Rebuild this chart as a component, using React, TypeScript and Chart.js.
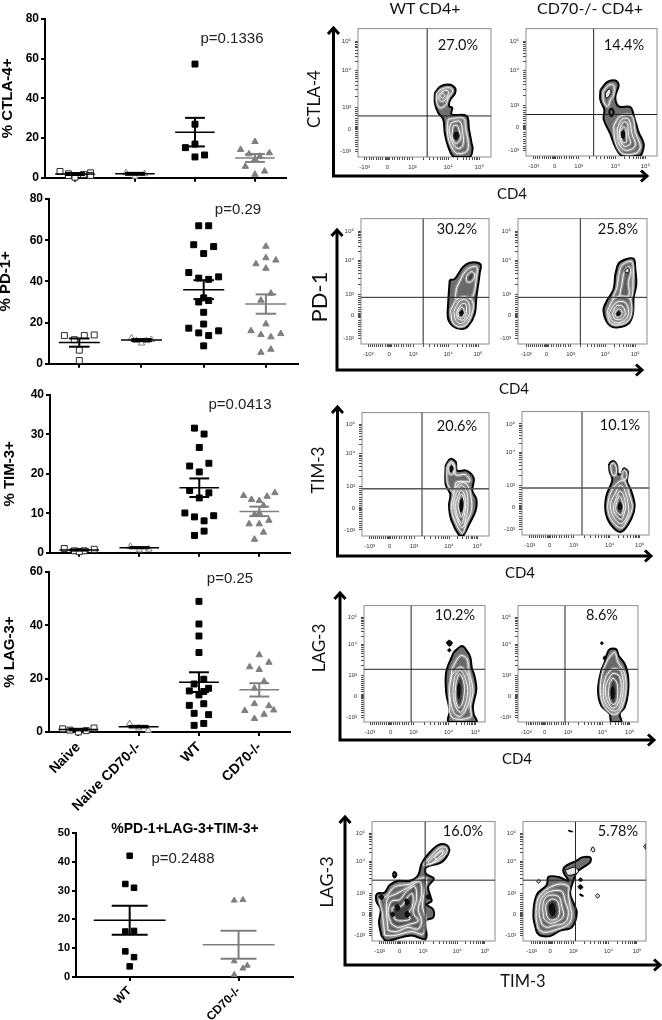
import React, { useEffect, useRef } from "react";
import Chart from "chart.js/auto";

// ---------- dot plots: [jitter, value] ----------
const groupNames = ["Naive", "Naive CD70-/-", "WT", "CD70-/-"];
const lastNames = ["WT", "CD70-/-"];

const ctla4Naive = [[-0.25, 3.2], [-0.11, 2], [-0.11, 1.2], [0, 0.3], [0.14, 1.7], [0.26, 2.5], [0.26, 1.2]];
const ctla4NaiveKo = [[-0.15, 2.5], [0, 0.7], [0.16, 2]];
const ctla4Wt = [[0, 57.3], [0, 27], [0, 17], [-0.16, 15.2], [0, 10.5], [0.16, 11.5]];
const ctla4Ko = [[0, 18.2], [-0.24, 14.2], [0.24, 12.5], [-0.1, 12], [0.08, 10.8], [0, 9.5], [-0.16, 5.7], [0.16, 3.3], [0, 1.7]];
const ctla4Means = [1.9, 2, 23, 10];
const ctla4Sems = [0.5, 0.5, 7.2, 2];

const pd1Naive = [[-0.24, 13.7], [-0.08, 11.7], [0.08, 13.7], [0.24, 14], [0, 6.6], [0, 1.6]];
const pd1NaiveKo = [[-0.16, 12.5], [-0.08, 11.3], [0, 10], [0.08, 11.2], [0.16, 11.7]];
const pd1Wt = [[-0.08, 67], [0.08, 67], [-0.16, 57.8], [0.16, 56.9], [0, 53.5], [-0.24, 44.3], [-0.08, 41.6], [0.08, 41], [0.24, 42.2], [0, 32], [-0.08, 30], [0.08, 30.7], [0, 25], [-0.24, 17.3], [0, 19.3], [-0.08, 15], [0.24, 16], [0.08, 13.7], [0, 8.7]];
const pd1Ko = [[0, 57], [-0.16, 48.5], [0, 51.4], [0.16, 50.3], [0, 46.3], [0.08, 34.2], [-0.08, 30.8], [0, 19.3], [-0.24, 16], [-0.08, 14.1], [0.24, 14.6], [0.08, 13], [0.08, 7], [-0.08, 5.5]];
const pd1Means = [10.3, 11.5, 36, 29];
const pd1Sems = [2, 0.5, 4.6, 4.7];

const tim3Naive = [[-0.25, 1.1], [-0.08, 0.5], [0.08, 0.5], [0.25, 0.9], [0, 0.3]];
const tim3NaiveKo = [[-0.15, 1.6], [0, 0.7], [0.16, 0.9]];
const tim3Wt = [[-0.08, 31.6], [0.08, 30.1], [0, 26.7], [-0.16, 22], [0.16, 22.7], [0, 20.5], [-0.16, 15.8], [0.16, 15.2], [0, 13.9], [-0.24, 10.1], [-0.08, 9.1], [0.24, 9.4], [0.08, 8.1], [0.08, 5.5], [-0.08, 4.4]];
const tim3Ko = [[-0.26, 14.5], [-0.13, 13.5], [0, 13.2], [0.13, 14.3], [0.26, 15.2], [0.07, 12], [-0.08, 9.7], [0, 10.1], [-0.17, 7.3], [0, 7.3], [0.16, 8.2], [0.07, 5.2], [-0.08, 3.4]];
const tim3Means = [0.7, 1.3, 16.5, 10.5];
const tim3Sems = [0.15, 0.15, 2.35, 1.2];

const lag3Naive = [[-0.26, 1.2], [-0.14, 0.7], [0, 0], [0.13, 0.5], [0.26, 1.5]];
const lag3NaiveKo = [[-0.15, 3.1], [0, 1.5], [0.16, 0.6]];
const lag3Wt = [[0, 49], [0, 40.5], [0, 36], [0, 29.8], [-0.08, 18], [0.08, 19.8], [-0.16, 15.4], [0.16, 16.4], [0.08, 15.2], [0, 13.9], [-0.16, 10], [0.08, 10.6], [-0.08, 7], [0.16, 6.5], [-0.08, 2.5], [0.08, 3.2]];
const lag3Ko = [[0, 28.9], [-0.16, 24.4], [0.16, 26.1], [0, 23.4], [0.08, 19], [-0.08, 16.4], [-0.08, 10.6], [0.16, 9.8], [0.08, 6.6], [-0.24, 8], [0.24, 8.2], [-0.08, 5]];
const lag3Means = [0.9, 2, 18.7, 15.8];
const lag3Sems = [0.3, 0.3, 3.7, 2.5];

const tripleWt = [[0, 42.1], [-0.04, 32.3], [0.04, 31], [-0.04, 15.8], [0.04, 16], [-0.04, 8.9], [0.04, 6.9], [0, 3.7]];
const tripleKo = [[-0.04, 26.6], [0.04, 26.8], [-0.04, 5.5], [0.04, 3], [0.08, 4], [-0.04, 0.8]];
const tripleMeans = [19.7, 11.2];
const tripleSems = [5, 4.9];

// ---------- flow plots: each ring is [shade level, x, y, x, y, ...] in display channels ----------
const ctla4WtRings = [
  [0, 230,197,245,217,270,224,290,214,290,197,275,175,273,157,282,152,280,132,325,127,332,87,340,42,343,27,335,0,287,0,270,32,260,72,255,117,240,137,230,167],
  [1, 235,197,250,210,275,214,283,204,270,182,263,162,245,152,235,172],
  [2, 242,192,255,204,270,204,265,182,253,172,243,177],
  [3, 245,189,253,196,260,190,253,182],
  [1, 270,117,315,120,323,82,330,42,325,17,295,12,275,42,267,82],
  [2, 280,107,305,110,313,77,315,42,305,27,290,32,278,57,273,87],
  [3, 285,97,297,97,305,72,305,52,293,42,283,57,282,77],
  [5, 288,74,298,76,302,64,293,54,287,62],
];
const ctla4KoRings = [
  [0, 223,203,243,228,268,233,278,218,268,183,278,153,313,151,325,118,338,73,353,38,348,8,338,0,288,0,268,28,253,68,233,113,235,143,223,173],
  [1, 231,198,248,218,263,218,263,188,253,173,245,153,233,168],
  [6, 238,193,248,206,255,200,248,183,240,180],
  [0, 249,138,257,146,263,133,255,123],
  [1, 263,93,283,123,318,123,328,73,343,28,328,8,288,8,268,43],
  [2, 273,83,288,113,308,113,318,68,328,33,308,18,288,23,276,48],
  [3, 280,78,291,103,303,103,308,63,313,38,295,30,283,48],
  [4, 283,73,293,90,299,83,301,58,301,43,289,43],
  [5, 285,73,293,78,295,58,288,56],
];
const pd1WtRings = [
  [0, 267,198,282,201,307,238,327,251,359,246,357,218,347,143,342,93,322,55,302,46,277,55,262,78,262,123],
  [1, 287,173,317,228,347,238,347,203,332,143,287,138],
  [4, 317,208,332,223,342,213,332,193,319,193],
  [1, 269,103,289,138,317,145,337,128,332,88,317,61,297,53,277,65],
  [2, 279,101,297,133,317,135,327,113,322,83,302,63,285,73],
  [3, 287,98,302,123,315,123,317,98,309,75,292,78],
  [4, 292,98,302,113,309,108,309,88,302,81,294,85],
  [5, 297,98,305,103,307,93,300,88],
];
const pd1KoRings = [
  [0, 290,213,300,248,320,261,345,263,350,233,353,183,345,143,343,93,330,63,295,51,270,61,255,103,265,133,285,168],
  [1, 300,208,310,243,340,253,343,193,335,138,285,138,295,173],
  [2, 315,218,330,238,337,223,330,193,330,148,305,143,310,183],
  [6, 320,228,330,235,330,221,320,221],
  [1, 267,103,290,143,330,143,340,108,330,73,295,58,273,68],
  [2, 273,98,293,128,320,128,330,98,320,75,295,65,278,75],
  [3, 282,95,295,118,313,115,320,93,310,78,295,75,285,81],
  [4, 289,95,298,108,308,105,310,91,300,83,291,85],
  [5, 294,93,300,100,305,93,299,87],
];
const tim3WtRings = [
  [0, 251,219,265,238,281,229,285,202,313,202,335,179,331,139,343,114,341,79,323,39,303,0,293,0,268,49,261,94,265,129,251,159],
  [1, 255,214,266,229,278,219,281,189,311,189,323,169,283,166,278,134,265,144,255,169],
  [3, 260,214,268,224,276,212,273,192,263,192],
  [5, 264,212,270,217,273,206,266,198],
  [1, 278,144,298,166,318,154,328,114,328,79,313,39,301,9,278,49,268,89],
  [2, 283,134,298,156,313,139,318,104,315,69,301,26,283,59,275,99],
  [3, 288,124,298,142,308,126,311,94,305,54,298,39,286,64,281,99],
  [4, 293,119,299,129,305,114,306,84,298,59,291,79,288,99],
  [5, 296,109,300,116,303,99,298,74,294,89],
];
const tim3KoRings = [
  [0, 261,220,273,228,285,215,288,188,298,188,305,205,318,195,315,165,328,135,338,90,328,50,298,10,268,30,251,70,253,120,271,170,263,195],
  [1, 265,215,275,222,283,208,281,185,271,185],
  [1, 301,195,308,200,315,188,311,172,301,175],
  [1, 273,145,293,165,308,165,323,120,331,85,318,50,298,22,273,40,258,75,261,115],
  [2, 278,125,293,152,305,145,318,100,318,65,298,35,278,50,266,80,268,105],
  [3, 283,115,293,135,303,125,311,90,308,70,298,48,281,62,274,85],
  [4, 286,105,293,120,300,105,305,85,298,62,285,70,281,85],
  [5, 290,92,295,100,299,85,294,78,289,82],
];
const lag3WtRings = [
  [0, 268,215,293,235,308,220,318,200,323,165,330,145,336,100,326,50,328,25,336,0,253,0,256,35,246,90,246,155],
  [5, 246,245,254,253,264,245,256,234],
  [5, 250,222,255,227,260,222,255,217],
  [1, 263,165,288,205,308,195,313,160,326,100,318,50,318,15,263,15,256,80],
  [2, 263,145,288,170,308,150,318,100,310,50,288,18,268,30,256,95],
  [3, 271,140,288,160,303,135,310,95,300,45,288,30,273,50,266,95],
  [4, 276,125,286,148,298,125,300,90,293,55,283,45,275,65,273,95],
  [5, 281,112,284,120,287,108,286,82,283,72,281,90],
];
const lag3KoRings = [
  [0, 265,205,275,225,295,225,302,205,320,180,330,145,330,90,320,45,305,25,310,0,280,0,275,25,250,50,240,100,250,160,260,185],
  [5, 247,244,251,248,256,244,251,239],
  [5, 255,198,261,205,265,198,261,190],
  [1, 270,195,290,215,300,185,320,150,323,90,305,32,280,25,255,55,247,105,255,160],
  [2, 265,145,285,165,310,155,315,90,300,38,277,38,258,70,257,115],
  [3, 270,130,285,150,305,140,308,85,295,48,280,45,265,75,263,110],
  [4, 275,120,285,135,297,120,298,75,290,55,278,60,271,90],
  [5, 281,102,285,110,288,95,287,75,282,72,280,88],
];
const tripleWtRings = [
  [0, 28,17,21,57,26,97,13,122,15,145,38,149,53,172,78,185,113,185,138,202,148,237,168,267,198,295,223,295,231,277,208,242,163,227,161,207,185,192,168,167,175,137,178,122,163,112,183,97,183,72,161,62,161,7,118,17,73,7,43,0],
  [1, 153,235,178,262,203,287,221,287,223,272,198,247,158,232],
  [2, 168,242,188,262,208,280,215,277,193,252,173,237],
  [3, 188,257,208,275,211,270,193,252],
  [1, 38,17,31,87,23,127,43,137,68,167,113,175,143,192,163,192,158,157,151,107,161,67,153,22,118,29,68,17],
  [2, 48,32,43,97,48,132,73,145,113,167,143,182,148,142,138,97,148,62,138,37,108,42,73,29],
  [3, 58,52,48,87,58,122,83,127,103,152,128,167,133,127,123,87,138,62,113,52,78,42],
  [4, 68,67,61,102,88,107,108,137,121,145,121,107,108,82,113,67,83,62],
  [5, 98,127,105,129,111,117,103,110],
  [5, 68,107,76,112,83,102,75,92],
  [5, 56,85,63,89,68,80,60,75],
  [5, 98,85,106,91,113,82,105,72],
  [5, 21,137,29,142,35,134,28,127],
  [5, 161,137,169,142,175,134,168,128],
  [0, 62,204,67,212,73,204,67,195],
];
const tripleKoRings = [
  [0, 41,27,31,77,41,142,71,172,76,197,106,197,136,185,121,212,126,229,161,247,176,257,201,257,201,242,181,227,161,212,151,187,141,147,151,117,161,87,146,42,111,32,81,15,51,17],
  [6, 126,217,156,227,166,212,136,202],
  [1, 46,37,39,77,46,132,76,162,111,175,136,167,136,142,141,107,146,82,136,52,91,32,61,27],
  [2, 56,52,48,87,56,132,81,152,116,152,126,122,136,87,126,57,91,47,71,42],
  [3, 63,67,59,107,71,137,106,137,116,107,121,77,106,62,81,55],
  [4, 71,77,69,112,86,129,103,122,109,87,101,69,81,65],
  [5, 82,88,80,108,88,116,93,105,95,85,88,78],
  [6, 203,279,209,290,215,277,209,274],
  [6, 217,139,223,145,229,139,223,132],
  [6, 41,184,47,189,52,183,46,178],
  [5, 166,189,173,194,178,187,171,183],
  [5, 164,167,171,173,179,165,171,159],
  [5, 171,145,181,139,179,137,169,142],
  [5, 136,340,148,337,148,335,136,338],
  [6, 361,290,366,297,368,282],
];

const decadeLabels = ["-10³", "0", "10³", "10⁴", "10⁵"];
const percentLabels = ["27.0%", "14.4%", "30.2%", "25.8%", "20.6%", "10.1%", "10.2%", "8.6%", "16.0%", "5.78%"];
const pValues = ["p=0.1336", "p=0.29", "p=0.0413", "p=0.25", "p=0.2488"];

// ---------- styling and layout ----------
const SANS = "'Liberation Sans', Arial, sans-serif";
const SOFT = "Lato, 'Open Sans', sans-serif";
const GRAY = "#7f7f7f";
const SHADES = ["#6e6e6e", "#686868", "#5e5e5e", "#525252", "#404040", "#101010", "#e6e6e6"];

function dotDatasets(groups: number[][][], cats: number[], means: number[], sems: number[], styles: any[], meanColors: string[], big = false) {
  const ds: any[] = [];
  groups.forEach((g, i) => {
    const s = styles[i];
    ds.push({
      data: g.map(([dx, y]) => ({ x: cats[i] + dx, y })),
      pointStyle: s.shape,
      pointRadius: s.shape === "rect" ? (big ? 3.9 : 4.2) : big ? 3.4 : 3.7,
      pointBackgroundColor: s.fill,
      pointBorderColor: s.line,
      pointBorderWidth: 1,
      showLine: false,
      clip: false,
    });
  });
  const hm = 0.33;
  const hc = 0.165;
  means.forEach((m, i) => {
    const c = cats[i];
    const e = sems[i];
    const color = meanColors[i];
    const seg = (x1: number, y1: number, x2: number, y2: number, w: number) =>
      ds.push({ data: [{ x: x1, y: y1 }, { x: x2, y: y2 }], showLine: true, borderColor: color, borderWidth: w, pointRadius: 0, clip: false });
    seg(c - hm, m, c + hm, m, 1.5);
    seg(c, m - e, c, m + e, 2);
    seg(c - hc, m + e, c + hc, m + e, 2);
    seg(c - hc, m - e, c + hc, m - e, 2);
  });
  ds.forEach((d, i) => (d.order = -i));
  return ds;
}

const openSquare = { shape: "rect", fill: "#ffffff", line: "#2a2a2a" };
const openTriangle = { shape: "triangle", fill: "#ffffff", line: GRAY };
const solidSquare = { shape: "rect", fill: "#000000", line: "#000000" };
const solidTriangle = { shape: "triangle", fill: GRAY, line: GRAY };
const fourStyles = [openSquare, openTriangle, solidSquare, solidTriangle];
const fourMeanColors = ["#000000", "#000000", "#000000", GRAY];

function dotConfig(p: any) {
  return {
    type: "scatter",
    data: { datasets: p.datasets },
    options: {
      animation: false,
      responsive: false,
      layout: { padding: { top: p.padTop, right: p.padRight, left: 0, bottom: 0 } },
      plugins: { legend: { display: false }, tooltip: { enabled: false } },
      scales: {
        x: {
          type: "linear",
          min: p.xMin,
          max: p.xMax,
          afterFit: (s: any) => { s.height = p.xHeight; },
          afterBuildTicks: (s: any) => { s.ticks = p.cats.map((v: number) => ({ value: v })); },
          border: { color: "#000", width: 2 },
          grid: { drawOnChartArea: false, drawTicks: true, tickLength: 4, lineWidth: 2, color: "#000" },
          ticks: {
            display: !!p.labels,
            autoSkip: false,
            minRotation: 45,
            maxRotation: 45,
            padding: 3,
            color: "#000",
            font: { family: SANS, size: p.xFont || 14, weight: "bold" },
            callback: (v: number) => (p.labels ? p.labels[v] : ""),
          },
        },
        y: {
          type: "linear",
          min: 0,
          max: p.yMax,
          afterFit: (s: any) => { s.width = p.yWidth; },
          border: { color: "#000", width: 2 },
          grid: { drawOnChartArea: false, drawTicks: true, tickLength: 4, lineWidth: 2, color: "#000" },
          ticks: { stepSize: p.yStep, padding: 2, color: "#000", font: { family: SANS, size: p.yFont || 12, weight: "bold" } },
          title: p.yTitle
            ? { display: true, text: p.yTitle, color: "#000", padding: { top: p.titlePad, bottom: 0 }, font: { family: SANS, size: 15, weight: "bold", lineHeight: 1 } }
            : { display: false },
        },
      },
    },
  };
}

function flowTicks(pos: number[], max: number) {
  const [neg, zero, t3, t4, t5] = pos;
  const out = [...pos];
  for (let k = 1; k < 10; k++) {
    out.push(neg + ((zero - neg) * k) / 10, zero + ((t3 - zero) * k) / 10);
  }
  [2, 3, 4, 5, 6, 7, 8, 9].forEach((k) => {
    out.push(t3 + (t4 - t3) * Math.log10(k), t4 + (t5 - t4) * Math.log10(k));
  });
  [-3, -2, -1, 1, 2, 3].forEach((k) => out.push(zero + k));
  return out.filter((v) => v >= 0 && v <= max).sort((a, b) => a - b);
}

const framePlugin = {
  id: "flowFrame",
  beforeDatasetsDraw(chart: any) {
    const { ctx, chartArea: a } = chart;
    ctx.save();
    ctx.strokeStyle = "#8c8c8c";
    ctx.lineWidth = 1;
    ctx.strokeRect(a.left, a.top, a.right - a.left, a.bottom - a.top);
    ctx.restore();
  },
};

function flowConfig(p: any) {
  const rings: any[] = [];
  p.rings.forEach((r: number[]) => {
    const pts: any[] = [];
    for (let i = 1; i < r.length; i += 2) pts.push({ x: r[i], y: r[i + 1] });
    pts.push(pts[0]);
    const level = r[0];
    const solid = level === 0 || level === 5 || level === 6;
    rings.push({
      data: pts,
      showLine: true,
      tension: 0.35,
      pointRadius: 0,
      fill: "shape",
      backgroundColor: SHADES[level],
      borderColor: solid ? "#000" : "rgba(255,255,255,0.3)",
      borderWidth: solid ? (level === 0 ? 2 : 1) : 3.5,
    });
    if (!solid) {
      rings.push({ data: pts, showLine: true, tension: 0.35, pointRadius: 0, fill: false, borderColor: "#f4f4f4", borderWidth: 1 });
    }
  });
  const gate = (x1: number, y1: number, x2: number, y2: number, color: string, w: number) => ({
    data: [{ x: x1, y: y1 }, { x: x2, y: y2 }], showLine: true, borderColor: color, borderWidth: w, pointRadius: 0, fill: false,
  });
  const ds = [
    ...rings,
    gate(p.gate[0], 0, p.gate[0], p.yMax, "#222", 1),
    gate(0, p.gate[1], p.xMax, p.gate[1], p.gateColor || "#222", p.gateWidth || 1),
  ];
  ds.forEach((d, i) => (d.order = -i));
  const tickSet = (pos: number[], max: number) => (s: any) => { s.ticks = flowTicks(pos, max).map((v) => ({ value: v })); };
  const common = {
    type: "linear",
    border: { display: false },
    grid: { drawOnChartArea: false, drawTicks: true, tickLength: 3, lineWidth: 1, color: "#4a4a4a" },
  };
  const tickOpt = (pos: number[]) => ({
    autoSkip: false,
    maxRotation: 0,
    minRotation: 0,
    padding: 4,
    color: "#333",
    font: { family: SANS, size: 6 },
    callback: (v: number) => { const i = pos.indexOf(v); return i >= 0 ? decadeLabels[i] : ""; },
  });
  return {
    type: "scatter",
    data: { datasets: ds },
    plugins: [framePlugin],
    options: {
      animation: false,
      responsive: false,
      layout: { padding: { top: 4, right: 6, left: 0, bottom: 0 } },
      plugins: { legend: { display: false }, tooltip: { enabled: false } },
      scales: {
        x: { ...common, min: 0, max: p.xMax, afterFit: (s: any) => { s.height = 18; }, afterBuildTicks: tickSet(p.xTicks, p.xMax), ticks: tickOpt(p.xTicks) },
        y: { ...common, min: 0, max: p.yMax, afterFit: (s: any) => { s.width = 22; }, afterBuildTicks: tickSet(p.yTicks, p.yMax), ticks: tickOpt(p.yTicks) },
      },
    },
  };
}

const dotPanels = [
  { box: [0, 9, 292, 178], padTop: 10, padRight: 6, xHeight: 8, yWidth: 45, xMin: -0.5, xMax: 3.517, yMax: 80, yStep: 20, yTitle: "% CTLA-4+", titlePad: 0, cats: [0, 1, 2, 3], groups: [ctla4Naive, ctla4NaiveKo, ctla4Wt, ctla4Ko], means: ctla4Means, sems: ctla4Sems },
  { box: [0, 189, 304, 184], padTop: 10, padRight: 6, xHeight: 8, yWidth: 49, xMin: -0.487, xMax: 3.516, yMax: 80, yStep: 20, yTitle: "% PD-1+", titlePad: -1.5, cats: [0, 1, 2, 3], groups: [pd1Naive, pd1NaiveKo, pd1Wt, pd1Ko], means: pd1Means, sems: pd1Sems },
  { box: [0, 385, 296, 177], padTop: 10, padRight: 6, xHeight: 8, yWidth: 50, xMin: -0.488, xMax: 3.512, yMax: 40, yStep: 10, yTitle: "% TIM-3+", titlePad: 2.5, cats: [0, 1, 2, 3], groups: [tim3Naive, tim3NaiveKo, tim3Wt, tim3Ko], means: tim3Means, sems: tim3Sems },
  { box: [0, 562, 296, 250], padTop: 10, padRight: 6, xHeight: 80, yWidth: 49, xMin: -0.487, xMax: 3.51, yMax: 60, yStep: 20, yTitle: "% LAG-3+", titlePad: 2.5, cats: [0, 1, 2, 3], groups: [lag3Naive, lag3NaiveKo, lag3Wt, lag3Ko], means: lag3Means, sems: lag3Sems, labels: groupNames },
];

const flowPanels = [
  { frame: [358, 25, 491, 157], xMax: 398, yMax: 397, gate: [207, 127], xTicks: [20, 88, 163, 270, 363], yTicks: [17, 87, 154, 267, 357], rings: ctla4WtRings },
  { frame: [526, 25, 657, 156], xMax: 393, yMax: 393, gate: [203, 128], xTicks: [23, 86, 158, 268, 358], yTicks: [16, 88, 155, 263, 353], rings: ctla4KoRings },
  { frame: [361, 215, 489, 344], xMax: 385, yMax: 387, gate: [187, 144], xTicks: [22, 85, 157, 262, 352], yTicks: [18, 88, 153, 258, 348], rings: pd1WtRings },
  { frame: [518, 215, 647, 344], xMax: 385, yMax: 387, gate: [186, 144], xTicks: [25, 85, 157, 260, 350], yTicks: [18, 88, 153, 258, 348], rings: pd1KoRings },
  { frame: [362, 409, 489, 536], xMax: 381, yMax: 381, gate: [180, 146], gateColor: "#555", gateWidth: 1.5, xTicks: [23, 83, 156, 261, 346], yTicks: [19, 86, 154, 254, 344], rings: tim3WtRings },
  { frame: [522, 408, 649, 535], xMax: 381, yMax: 380, gate: [180, 145], gateColor: "#555", gateWidth: 1.5, xTicks: [23, 83, 155, 263, 353], yTicks: [18, 85, 152, 255, 342], rings: tim3KoRings },
  { frame: [364, 602, 485, 722], xMax: 362, yMax: 360, gate: [141, 163], xTicks: [18, 80, 148, 253, 333], yTicks: [15, 80, 145, 240, 323], rings: lag3WtRings },
  { frame: [518, 602, 638, 722], xMax: 360, yMax: 360, gate: [141, 163], xTicks: [25, 80, 150, 253, 335], yTicks: [15, 80, 145, 240, 323], rings: lag3KoRings },
  { frame: [372, 818, 495, 941], xMax: 368, yMax: 367, gate: [159, 187], xTicks: [23, 83, 153, 255, 338], yTicks: [17, 82, 145, 245, 330], rings: tripleWtRings },
  { frame: [523, 818, 646, 941], xMax: 368, yMax: 367, gate: [157, 187], xTicks: [26, 81, 151, 256, 341], yTicks: [17, 82, 145, 245, 330], rings: tripleKoRings },
];

// arrow axes: [corner x, corner y, top y, right x]
const arrowAxes = [
  [333.5, 176, 27, 648],
  [337, 370, 229, 643],
  [337.5, 556, 406, 652],
  [340, 740, 592, 655],
  [345, 965, 816, 661],
];

const pPositions = [[232, 37], [238, 208], [240, 403], [230, 577], [183, 857]];
const percentPositions = [[458, 45], [624, 45], [457, 229], [618, 229], [457, 426], [620, 425], [455, 615], [602, 615], [463, 831], [618, 831]];
const softLabels: [string, number, number, number][] = [
  ["WT CD4+", 425, 8, 16], ["CD70-/- CD4+", 590, 8, 16],
  ["CD4", 512, 193, 15], ["CD4", 514, 388, 15], ["CD4", 520, 572, 15], ["CD4", 517, 758, 15], ["TIM-3", 523, 981, 16.5],
];
const softYLabels: [string, number, number, number][] = [
  ["CTLA-4", 313, 99, 17], ["PD-1", 319, 297, 22], ["TIM-3", 317, 470, 17], ["LAG-3", 318, 648, 17], ["LAG-3", 326, 882, 18],
];

function ChartBox({ config, box, blur }: { config: any; box: number[]; blur: number }) {
  const ref = useRef<HTMLCanvasElement>(null);
  useEffect(() => {
    const chart = new Chart(ref.current as HTMLCanvasElement, config);
    return () => chart.destroy();
  }, []);
  return (
    <canvas
      ref={ref}
      width={box[2]}
      height={box[3]}
      style={{ position: "absolute", left: box[0], top: box[1], width: box[2], height: box[3], filter: `blur(${blur}px)` }}
    />
  );
}

function Label({ text, x, y, size, family, color = "#111", rotate = false, bold = false }: any) {
  return (
    <span
      style={{
        position: "absolute",
        left: x,
        top: y,
        transform: `translate(-50%,-50%)${rotate ? " rotate(-90deg)" : ""}`,
        fontFamily: family,
        fontSize: size,
        fontWeight: bold ? "bold" : "normal",
        lineHeight: 1,
        color,
        whiteSpace: "nowrap",
      }}
    >
      {text}
    </span>
  );
}

export default function App() {
  return (
    <div style={{ position: "absolute", left: 0, top: 0, width: 662, height: 1020, overflow: "hidden", background: "#fff" }}>
      {dotPanels.map((p, i) => (
        <ChartBox
          key={"dot" + i}
          blur={0.3}
          box={p.box}
          config={dotConfig({ ...p, datasets: dotDatasets(p.groups, p.cats, p.means, p.sems, fourStyles, fourMeanColors) })}
        />
      ))}
      <ChartBox
        blur={0.3}
        box={[0, 823, 300, 197]}
        config={dotConfig({
          padTop: 10,
          padRight: 7,
          xHeight: 43,
          yWidth: 76,
          xMin: -0.493,
          xMax: 1.5,
          yMax: 50,
          yStep: 10,
          cats: [0, 1],
          labels: lastNames,
          xFont: 12,
          yFont: 11,
          datasets: dotDatasets([tripleWt, tripleKo], [0, 1], tripleMeans, tripleSems, [solidSquare, solidTriangle], ["#000000", GRAY], true),
        })}
      />
      <Label text="%PD-1+LAG-3+TIM-3+" x={185} y={828} size={14} family={SANS} color="#000" bold />
      {flowPanels.map((p, i) => {
        const [l, t, r, b] = p.frame;
        return <ChartBox key={"flow" + i} blur={0.45} box={[l - 22, t - 4, r - l + 28, b - t + 22]} config={flowConfig(p)} />;
      })}
      <svg width={662} height={1020} style={{ position: "absolute", left: 0, top: 0, pointerEvents: "none" }}>
        {arrowAxes.map(([cx, cy, top, right], i) => (
          <g key={i} fill="none" stroke="#000" strokeWidth={3}>
            <path d={`M${cx} ${top + 1} V${cy} H${right - 1}`} />
            <path d={`M${cx - 5.5} ${top + 7} L${cx} ${top + 1} L${cx + 5.5} ${top + 7}`} />
            <path d={`M${right - 7} ${cy - 5.5} L${right - 1} ${cy} L${right - 7} ${cy + 5.5}`} />
          </g>
        ))}
      </svg>
      {pValues.map((t, i) => (
        <Label key={t} text={t} x={pPositions[i][0]} y={pPositions[i][1]} size={15} family={SANS} color="#222" />
      ))}
      {percentLabels.map((t, i) => (
        <Label key={t} text={t} x={percentPositions[i][0]} y={percentPositions[i][1]} size={14.5} family={SOFT} />
      ))}
      {softLabels.map(([t, x, y, s], i) => (
        <Label key={"s" + i} text={t} x={x} y={y} size={s} family={SOFT} />
      ))}
      {softYLabels.map(([t, x, y, s], i) => (
        <Label key={"y" + i} text={t} x={x} y={y} size={s} family={SOFT} rotate />
      ))}
    </div>
  );
}
